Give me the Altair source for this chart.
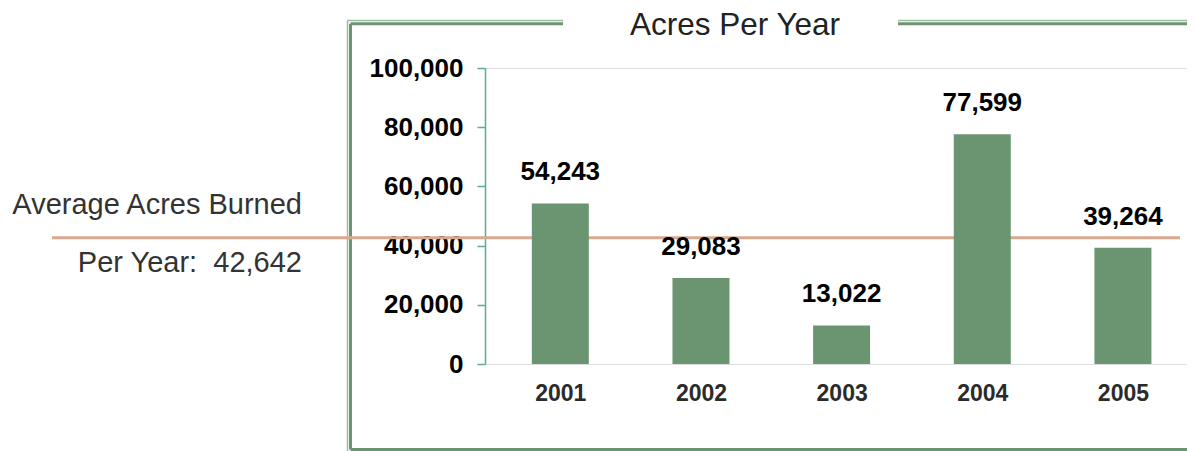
import altair as alt
import pandas as pd
import numpy as np

# ---- data ----
years = [2001, 2002, 2003, 2004, 2005]
acres = [54243, 29083, 13022, 77599, 39264]
y_ticks = [0, 20000, 40000, 60000, 80000, 100000]
chart_title = "Acres Per Year"
avg_label_1 = "Average Acres Burned"
avg_value = float(np.mean(acres))
avg_label_2 = "Per Year:\u00a0 " + f"{avg_value:,.0f}"

df = pd.DataFrame({"year": years, "acres": acres})
one = pd.DataFrame({"k": [0]})

FONT = "Liberation Sans, Arial, Helvetica, sans-serif"
BAR = "#6B9571"
FRAME_DARK = "#6B9571"
FRAME_LIGHT = "#9DBC9F"
AXIS = "#5AAE86"
AVG = "#D8A98F"

x_scale = alt.Scale(domain=[2000.5, 2005.42], nice=False, zero=False)
y_scale = alt.Scale(domain=[0, 100000], nice=False)

base = alt.Chart(df)

bars = base.mark_bar(size=57, color=BAR).encode(
    x=alt.X("year:Q", scale=x_scale, title=None,
            axis=alt.Axis(values=years, format="d", domain=False, ticks=False,
                          grid=False, labelFontSize=23, labelFontWeight="bold",
                          labelColor="#2b2b2b", labelPadding=18, labelFont=FONT)),
    y=alt.Y("acres:Q", scale=y_scale, title=None,
            axis=alt.Axis(values=y_ticks, format=",d", grid=False,
                          domainColor=AXIS, domainWidth=1.5, tickColor=AXIS,
                          tickWidth=1.5, tickSize=8, labelPadding=14,
                          labelFontSize=26, labelFontWeight="bold",
                          labelColor="#000000", labelFont=FONT)),
)

labels = base.mark_text(dy=-23, baseline="alphabetic", align="center",
                        fontSize=26, fontWeight="bold", font=FONT,
                        color="#000000").encode(
    x=alt.X("year:Q", scale=x_scale),
    y=alt.Y("acres:Q", scale=y_scale),
    text=alt.Text("acres:Q", format=",d"),
)

avg_rule = base.mark_rule(color=AVG, strokeWidth=3).encode(
    y=alt.Y("mean(acres):Q", scale=y_scale),
    x=alt.value(-433),
    x2=alt.value(695),
)

def txt(s, x, y, size, align, color="#222222", weight="normal"):
    return alt.Chart(one).mark_text(text=s, align=align, baseline="alphabetic",
                                    fontSize=size, font=FONT, color=color,
                                    fontWeight=weight).encode(
        x=alt.value(x), y=alt.value(y))

title_t = txt(chart_title, 250, -33, 31.5, "center")
avg_t1 = txt(avg_label_1, -183, 146, 29, "right", color="#333333")
avg_t2 = txt(avg_label_2, -183, 204, 29, "right", color="#333333")

def hline(x1, x2, y, color, w):
    return alt.Chart(one).mark_rule(color=color, strokeWidth=w).encode(
        x=alt.value(x1), x2=alt.value(x2), y=alt.value(y))

def vline(x, y1, y2, color, w):
    return alt.Chart(one).mark_rule(color=color, strokeWidth=w).encode(
        x=alt.value(x), y=alt.value(y1), y2=alt.value(y2))

frame = [
    vline(-137.5, -47.5, 400, FRAME_LIGHT, 1.5),
    vline(-134.5, -44.3, 381.5, FRAME_DARK, 3),
    hline(-137.5, 78, -47.5, FRAME_LIGHT, 1.5),
    hline(-134.5, 78, -44.3, FRAME_DARK, 3),
    hline(413, 800, -47.5, FRAME_LIGHT, 1.5),
    hline(413, 800, -44.3, FRAME_DARK, 3),
    hline(-134.5, 800, 381.5, FRAME_DARK, 3),
]

chart = alt.layer(
    *frame, avg_rule, bars, labels, title_t, avg_t1, avg_t2
).properties(
    width=702, height=296,
    autosize=alt.AutoSizeParams(type="none"),
    padding={"left": 477, "top": 60, "right": 0, "bottom": 87},
).configure_view(stroke=None).configure(background="white")

chart.save("out.html", embed_options={"renderer": "svg", "actions": False})
